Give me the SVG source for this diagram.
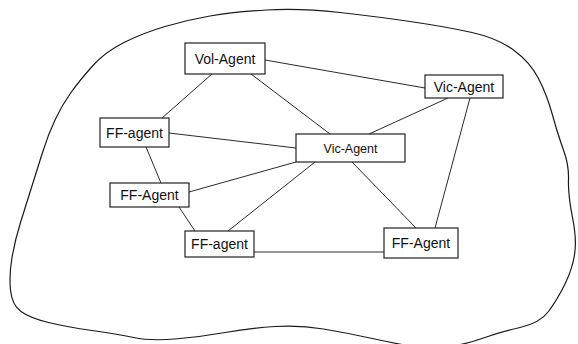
<svg xmlns="http://www.w3.org/2000/svg" width="578" height="344" viewBox="0 0 578 344">
<style>
.bg{fill:#ffffff}
.blob{fill:none;stroke:#1a1a1a;stroke-width:1.2;stroke-linejoin:round}
.box{fill:#ffffff;stroke:#222222;stroke-width:1.2}
.lbl{font-family:"Liberation Sans",Arial,sans-serif;font-size:14px;fill:#111111;text-anchor:middle}
.sm{font-size:12.5px}
.edges line{stroke:#2a2a2a;stroke-width:1}
</style>
<rect class="bg" x="0" y="0" width="578" height="344"/>
<path class="blob" d="M71,92.5 Q62,105 55,120 Q48,135 42.5,152.5 Q37,170 31.5,187.5 Q26,205 20.5,222.5 Q15,240 12,257.5 Q9,275 10.5,290 Q12,305 21,311.5 Q30,318 48.5,322.5 Q67,327 92,330.5 Q117,334 133.5,337.5 Q150,341 175,339 Q200,337 225,332.5 Q250,328 275,326.5 Q300,325 323.5,329 Q347,333 370,338 Q393,343 412.5,346.5 Q432,350 451,346.5 Q470,343 485,337.5 Q500,332 520,327.5 Q540,323 548.5,311.5 Q557,300 564.5,285 Q572,270 574.5,255 Q577,240 572.5,217.5 Q568,195 568.5,180 Q569,165 563.5,150 Q558,135 552.5,115 Q547,95 538.5,78.5 Q530,62 513.5,50 Q497,38 472,32.5 Q447,27 413.5,22 Q380,17 340,12.5 Q300,8 266.5,10 Q233,12 210,16 Q187,20 165,26.5 Q143,33 124,42.5 Q105,52 92.5,66 Q80,80 71,92.5 Z"/>
<g id="connectors" class="edges">
<line x1="265" y1="60" x2="425" y2="88"/>
<line x1="212" y1="74" x2="162" y2="118"/>
<line x1="251" y1="74" x2="330" y2="134"/>
<line x1="448" y1="98" x2="369" y2="134"/>
<line x1="470" y1="98" x2="435" y2="228"/>
<line x1="169" y1="133" x2="296" y2="148"/>
<line x1="146" y1="147" x2="161" y2="183"/>
<line x1="296" y1="162" x2="189" y2="192"/>
<line x1="315" y1="162" x2="228" y2="231"/>
<line x1="352" y1="162" x2="416" y2="228"/>
<line x1="179" y1="207" x2="195" y2="231"/>
<line x1="254" y1="252" x2="384" y2="252"/>
</g>
<g id="vol-agent"><rect class="box" x="185" y="43" width="80" height="31"/><text class="lbl" x="225" y="63.5">Vol-Agent</text></g>
<g id="vic-agent-right"><rect class="box" x="425" y="75" width="78" height="23"/><text class="lbl" x="464" y="91.5">Vic-Agent</text></g>
<g id="ff-agent-left"><rect class="box" x="100" y="118" width="69" height="29"/><text class="lbl" x="134.5" y="137.5">FF-agent</text></g>
<g id="vic-agent-center"><rect class="box" x="296" y="134" width="109" height="28"/><text class="lbl sm" x="350.5" y="152.5">Vic-Agent</text></g>
<g id="ff-agent-mid"><rect class="box" x="110" y="183" width="79" height="24"/><text class="lbl" x="149.5" y="200">FF-Agent</text></g>
<g id="ff-agent-bottom"><rect class="box" x="185" y="231" width="69" height="26"/><text class="lbl" x="219.5" y="249">FF-agent</text></g>
<g id="ff-agent-bottom-right"><rect class="box" x="384" y="228" width="74" height="30"/><text class="lbl" x="421" y="248">FF-Agent</text></g>
</svg>
